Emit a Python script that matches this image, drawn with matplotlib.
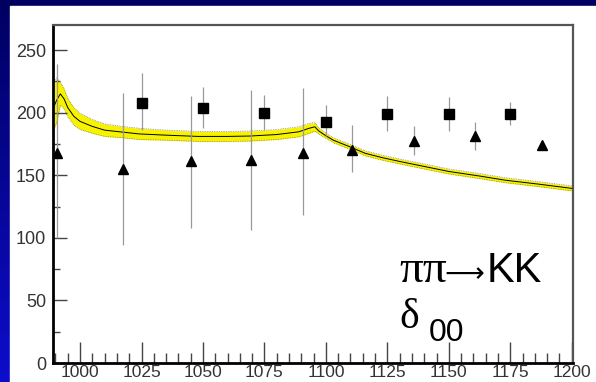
import numpy as np
import matplotlib.pyplot as plt
from matplotlib.ticker import MultipleLocator

# points avec barres d'erreur (carres et triangles)
sq_x = [1025, 1050, 1075, 1100, 1125, 1150, 1175]
sq_y = [208, 203.5, 199.5, 192.5, 199, 199, 199]
sq_lo = [186, 187.5, 186, 181, 185, 185, 190]
sq_hi = [231.5, 220.5, 214, 206, 213, 212.5, 208.5]

tri_x = [990.5, 1017.5, 1045, 1069.5, 1090.5, 1110.5, 1136, 1160.5, 1188]
tri_y = [168, 155, 161, 162, 168, 170.5, 177.5, 181, 174]
tri_lo = [100, 94, 107.5, 106, 118, 152.5, 166, 170, 170.5]
tri_hi = [239, 216, 213.5, 218, 219.5, 190, 189, 192.5, 177.5]

# courbe du fit et sa bande d'incertitude
fit_x = [989, 990.5, 992, 993.5, 995, 997.5, 1000, 1005, 1010, 1017, 1024,
         1035, 1048, 1060, 1069, 1080, 1089, 1093, 1095.5, 1097, 1100, 1103,
         1110, 1116, 1123, 1130, 1140, 1150, 1162, 1173, 1186, 1200]
fit_y = [203, 210, 215, 211, 204, 197, 193, 189, 186, 184.5, 183,
         182, 181, 181, 181.3, 182.5, 184.7, 187.4, 188.7, 185.5, 181.5, 178,
         172.5, 167.5, 164, 161, 157, 153, 149.5, 146, 143, 139.5]
fit_err = [18, 18, 9, 8, 7.5, 7, 6.5, 5.5, 5, 4.5, 4.5,
           4, 4, 4, 4, 4, 4, 4, 3.5, 2.5, 2, 2,
           2, 2, 2, 2, 2, 2, 2, 2, 2, 2]

fit_x = np.array(fit_x)
fit_y = np.array(fit_y)
fit_err = np.array(fit_err)

fig = plt.figure(figsize=(5.96, 3.82), dpi=100)

# fond bleu degrade + panneau blanc
bg = fig.add_axes([0, 0, 1, 1])
grad = np.linspace(0, 1, 256).reshape(-1, 1)
top = np.array([0.0, 0.0, 0.38])
bot = np.array([0.05, 0.05, 0.80])
img = top + grad[:, :, None] * (bot - top)
bg.imshow(img, aspect='auto', extent=[0, 1, 0, 1], origin='upper')
bg.add_patch(plt.Rectangle((10 / 596, 0), 586 / 596, 376 / 382,
                           color='white', zorder=2))
bg.set_xlim(0, 1)
bg.set_ylim(0, 1)
bg.axis('off')

ax = fig.add_axes([53 / 596, 19 / 382, 520 / 596, 338 / 382])
ax.set_facecolor('white')

ax.fill_between(fit_x, fit_y - fit_err, fit_y + fit_err,
                color='#f6f200', lw=0, zorder=1)
ax.plot(fit_x, fit_y - fit_err, color='#666666', ls=(0, (1, 1.5)), lw=0.5, zorder=2)
ax.plot(fit_x, fit_y + fit_err, color='#666666', ls=(0, (1, 1.5)), lw=0.5, zorder=2)
ax.plot(fit_x, fit_y, color='black', lw=0.7, zorder=3)

sq_yerr = [np.array(sq_y) - np.array(sq_lo), np.array(sq_hi) - np.array(sq_y)]
tri_yerr = [np.array(tri_y) - np.array(tri_lo), np.array(tri_hi) - np.array(tri_y)]

ax.errorbar(sq_x, sq_y, yerr=sq_yerr, fmt='s', color='black', ms=6.5,
            ecolor='#999999', elinewidth=0.9, capsize=0, zorder=4)
ax.errorbar(tri_x, tri_y, yerr=tri_yerr, fmt='^', color='black', ms=6.5,
            ecolor='#999999', elinewidth=0.9, capsize=0, zorder=4)

ax.set_xlim(989, 1200.5)
ax.set_ylim(0, 270)

ax.xaxis.set_major_locator(MultipleLocator(25))
ax.xaxis.set_minor_locator(MultipleLocator(5))
ax.yaxis.set_major_locator(MultipleLocator(50))
ax.yaxis.set_minor_locator(MultipleLocator(25))

ax.tick_params(axis='x', which='major', direction='in', length=15, width=1,
               color='#444444', labelsize=12.5, labelcolor='#333333', pad=1.5)
ax.tick_params(axis='x', which='minor', direction='in', length=7, width=1,
               color='#444444')
ax.tick_params(axis='y', which='major', direction='in', length=10, width=1,
               color='#444444', labelsize=13, labelcolor='#333333', pad=5)
ax.tick_params(axis='y', which='minor', direction='in', length=5, width=1,
               color='#444444')
for lab in ax.get_xticklabels() + ax.get_yticklabels():
    lab.set_family('Liberation Sans')

ax.spines['left'].set_linewidth(2)
ax.spines['bottom'].set_linewidth(2)
ax.spines['left'].set_color('black')
ax.spines['bottom'].set_color('black')
ax.spines['top'].set_linewidth(1.6)
ax.spines['right'].set_linewidth(1.6)
ax.spines['top'].set_color('#555555')
ax.spines['right'].set_color('#555555')

# etiquettes du processus
fig.text(399 / 596, 1 - 282 / 382, 'ππ', family='Liberation Serif',
         fontsize=34, color='black')
fig.text(444 / 596, 1 - 282 / 382, '⟶', family='DejaVu Sans',
         fontsize=20, color='black')
fig.text(487 / 596, 1 - 282 / 382, 'KK', family='Liberation Sans',
         fontsize=30, color='black')
fig.text(399 / 596, 1 - 328 / 382, 'δ', family='Liberation Serif',
         fontsize=30, color='black')
fig.text(429 / 596, 1 - 341 / 382, '00', family='Liberation Sans',
         fontsize=23, color='black')

fig.savefig('out.png', dpi=100)
